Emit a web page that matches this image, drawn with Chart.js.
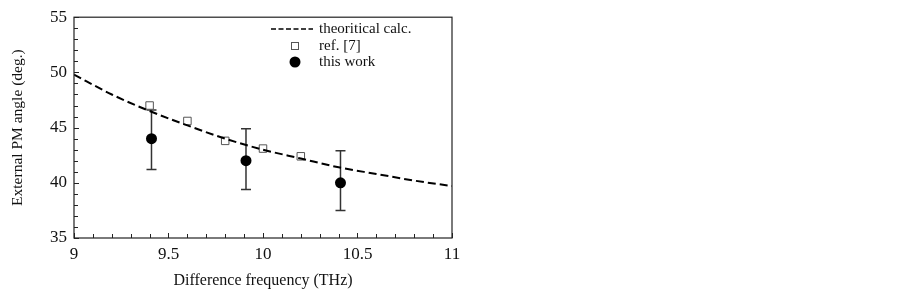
<!DOCTYPE html>
<html>
<head>
<meta charset="utf-8">
<script src="https://cdn.jsdelivr.net/npm/chart.js@4.4.0/dist/chart.umd.min.js"></script>
<style>
html,body{margin:0;padding:0;background:#fff;}
#wrap{width:903px;height:292px;position:relative;}
</style>
</head>
<body>
<div id="wrap"><canvas id="c"></canvas></div>
<script>
// ---- data ----
const curveX = [9.0, 9.2, 9.4, 9.6, 9.8, 10.0, 10.2, 10.4, 10.6, 10.8, 11.0];
const curveY = [49.8, 48.0, 46.5, 45.2, 44.0, 43.0, 42.2, 41.4, 40.8, 40.2, 39.7];
const refX = [9.4, 9.6, 9.8, 10.0, 10.2];
const refY = [47.0, 45.6, 43.8, 43.1, 42.4];
const workX = [9.41, 9.91, 10.41];
const workY = [44.0, 42.0, 40.0];
const workHigh = [46.6, 44.9, 42.9];
const workLow = [41.2, 39.4, 37.5];
const xTicks = [9, 9.5, 10, 10.5, 11];
const yTicks = [35, 40, 45, 50, 55];
const seriesNames = ['theoritical calc.', 'ref. [7]', 'this work'];

const FONT = "'Liberation Serif', 'Times New Roman', serif";
const TXT = '#111';

const toPts = (xs, ys) => xs.map((x, i) => ({x: x, y: ys[i]}));

const errorBars = {
  id: 'errorBars',
  beforeDatasetsDraw(chart) {
    const {ctx, scales: {x, y}} = chart;
    ctx.save();
    ctx.strokeStyle = '#333';
    ctx.lineWidth = 1.5;
    workX.forEach((xv, i) => {
      const px = x.getPixelForValue(xv);
      const pt = y.getPixelForValue(workHigh[i]);
      const pb = y.getPixelForValue(workLow[i]);
      ctx.beginPath();
      ctx.moveTo(px, pt); ctx.lineTo(px, pb);
      ctx.moveTo(px - 5, pt); ctx.lineTo(px + 5, pt);
      ctx.moveTo(px - 5, pb); ctx.lineTo(px + 5, pb);
      ctx.stroke();
    });
    ctx.restore();
  }
};

const frame = {
  id: 'frame',
  afterDraw(chart) {
    const {ctx, chartArea: a, scales: {x, y}} = chart;
    ctx.save();
    ctx.strokeStyle = '#222';
    ctx.lineWidth = 1.2;
    ctx.strokeRect(a.left, a.top, a.right - a.left, a.bottom - a.top);
    ctx.lineWidth = 1;
    ctx.beginPath();
    for (let v = 9; v <= 11.0001; v += 0.1) {
      const px = Math.round(x.getPixelForValue(v)) + 0.5;
      const major = Math.abs(v * 2 - Math.round(v * 2)) < 1e-6;
      const len = major ? 5 : 4;
      ctx.moveTo(px, a.bottom); ctx.lineTo(px, a.bottom - len);
    }
    for (let v = 35; v <= 55; v += 1) {
      const py = Math.round(y.getPixelForValue(v)) + 0.5;
      const len = (v % 5 === 0) ? 5 : 4;
      ctx.moveTo(a.left, py); ctx.lineTo(a.left + len, py);
    }
    ctx.stroke();

    // legend
    const ds = chart.data.datasets;
    ctx.font = '15px ' + FONT;
    ctx.fillStyle = TXT;
    ctx.textBaseline = 'middle';
    ctx.textAlign = 'left';
    const tx = 319;
    const rows = [29, 46, 62];
    // dashed line sample
    ctx.strokeStyle = '#000';
    ctx.lineWidth = 1.5;
    ctx.setLineDash([5, 2.5]);
    ctx.beginPath();
    ctx.moveTo(271, rows[0]); ctx.lineTo(313, rows[0]);
    ctx.stroke();
    ctx.setLineDash([]);
    // square
    ctx.strokeStyle = '#555';
    ctx.lineWidth = 1;
    ctx.fillStyle = '#fff';
    ctx.fillRect(291, rows[1] - 4, 8, 8);
    ctx.strokeRect(291.5, rows[1] - 3.5, 7, 7);
    // circle
    ctx.fillStyle = '#000';
    ctx.beginPath();
    ctx.arc(295, rows[2], 5.5, 0, Math.PI * 2);
    ctx.fill();
    ctx.fillStyle = TXT;
    ds.forEach((d, i) => ctx.fillText(d.label, tx, rows[i]));
    ctx.restore();
  }
};

new Chart(document.getElementById('c'), {
  type: 'scatter',
  data: {
    datasets: [
      {
        label: seriesNames[0],
        type: 'line',
        data: toPts(curveX, curveY),
        borderColor: '#000',
        borderWidth: 2,
        borderDash: [8, 4],
        pointRadius: 0,
        fill: false,
        cubicInterpolationMode: 'monotone'
      },
      {
        label: seriesNames[1],
        data: toPts(refX, refY),
        pointStyle: 'rect',
        pointRadius: 5.3,
        backgroundColor: '#fff',
        borderColor: '#555',
        borderWidth: 1
      },
      {
        label: seriesNames[2],
        data: toPts(workX, workY),
        pointStyle: 'circle',
        pointRadius: 5.5,
        backgroundColor: '#000',
        borderColor: '#000',
        borderWidth: 0
      }
    ]
  },
  options: {
    responsive: true,
    maintainAspectRatio: false,
    animation: false,
    layout: {padding: {top: 12, right: 451, left: 0, bottom: 0}},
    plugins: {legend: {display: false}, tooltip: {enabled: false}},
    scales: {
      x: {
        type: 'linear', min: 9, max: 11,
        afterBuildTicks: s => { s.ticks = xTicks.map(v => ({value: v})); },
        afterFit: s => { s.height = 54; },
        grid: {display: false, drawTicks: false},
        border: {display: false},
        ticks: {font: {family: FONT, size: 17}, color: TXT, padding: 6, maxRotation: 0,
                callback: v => String(v)},
        title: {display: true, text: 'Difference frequency (THz)', font: {family: FONT, size: 16},
                color: TXT, padding: {top: 0, bottom: 2}}
      },
      y: {
        type: 'linear', min: 35, max: 55,
        afterBuildTicks: s => { s.ticks = yTicks.map(v => ({value: v})); },
        afterFit: s => { s.width = 74; },
        grid: {display: false, drawTicks: false},
        border: {display: false},
        ticks: {font: {family: FONT, size: 17}, color: TXT, padding: 7},
        title: {display: true, text: 'External PM angle (deg.)', font: {family: FONT, size: 15.5},
                color: TXT, padding: {top: 9, bottom: 0}}
      }
    }
  },
  plugins: [errorBars, frame]
});
</script>
</body>
</html>
